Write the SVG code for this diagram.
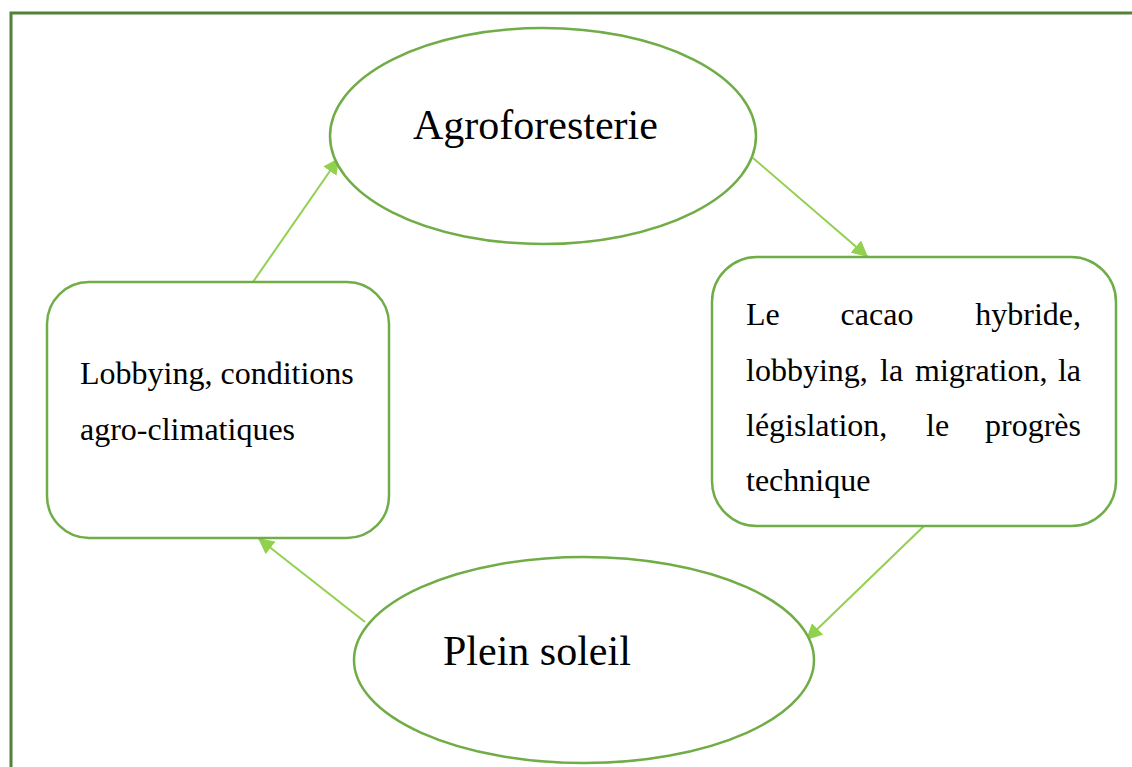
<svg xmlns="http://www.w3.org/2000/svg" width="1132" height="767" viewBox="0 0 1132 767">
<style>
.shape{fill:#fff;stroke:#70AD47;stroke-width:2.5}
.conn{stroke:#92D050;stroke-width:2;fill:none;marker-end:url(#ah)}
.t{font-family:"Liberation Serif","Times New Roman",serif;fill:#000}
.big{font-size:42px}
.small{font-size:32px}
</style>
<defs>
<marker id="ah" viewBox="0 0 10 10" refX="10" refY="5" markerWidth="8" markerHeight="8" orient="auto">
<path d="M0,0 L10,5 L0,10 z" fill="#92D050"/>
</marker>
</defs>
<rect x="0" y="0" width="1132" height="767" fill="#fff"/>
<path d="M11,780 L11,13 L1140,13" fill="none" stroke="#538135" stroke-width="3"/>
<g id="connectors">
<line class="conn" x1="253" y1="282" x2="339" y2="158"/>
<line class="conn" x1="753" y1="158" x2="868" y2="257"/>
<line class="conn" x1="924" y1="526" x2="806" y2="640"/>
<line class="conn" x1="365" y1="622" x2="258" y2="538"/>
</g>
<g id="agroforesterie">
<ellipse class="shape" cx="543" cy="136" rx="213" ry="108"/>
<text class="t big" x="413" y="139">Agroforesterie</text>
</g>
<g id="plein-soleil">
<ellipse class="shape" cx="584" cy="660" rx="230" ry="103"/>
<text class="t big" x="443" y="665">Plein soleil</text>
</g>
<g id="lobbying-box">
<rect class="shape" x="47" y="282" width="342" height="256" rx="42" ry="42"/>
<text class="t small" x="80" y="384">Lobbying, conditions</text>
<text class="t small" x="80" y="440">agro-climatiques</text>
</g>
<g id="cacao-box">
<rect class="shape" x="712" y="257" width="404" height="269" rx="45" ry="45"/>
<text class="t small" x="746" y="325">Le</text>
<text class="t small" x="877" y="325" text-anchor="middle">cacao</text>
<text class="t small" x="1081" y="325" text-anchor="end">hybride,</text>
<text class="t small" x="746" y="381">lobbying,</text>
<text class="t small" x="880" y="381">la</text>
<text class="t small" x="915" y="381">migration,</text>
<text class="t small" x="1081" y="381" text-anchor="end">la</text>
<text class="t small" x="746" y="436">législation,</text>
<text class="t small" x="926" y="436">le</text>
<text class="t small" x="1081" y="436" text-anchor="end">progrès</text>
<text class="t small" x="746" y="491">technique</text>
</g>
</svg>
